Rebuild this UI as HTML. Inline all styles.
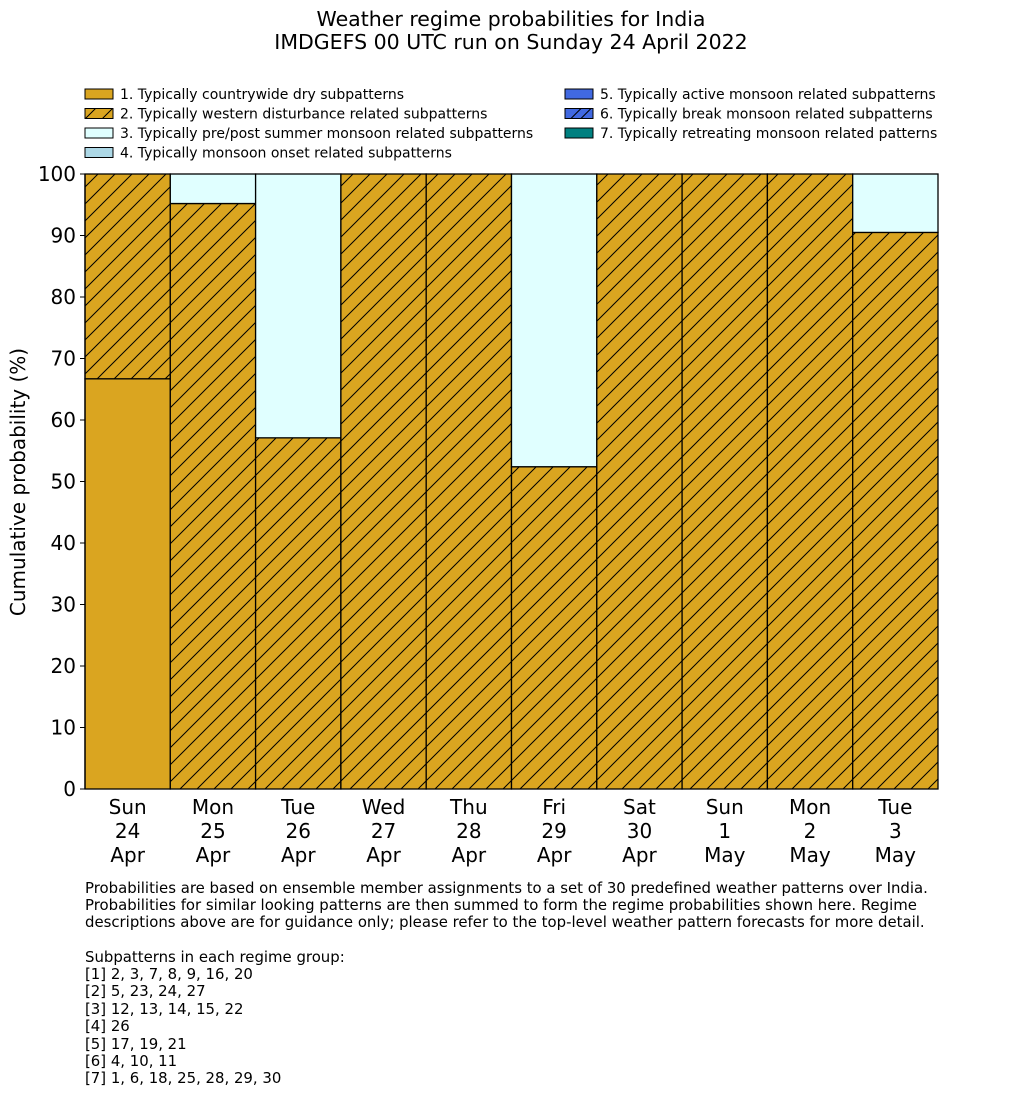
<!DOCTYPE html>
<html><head><meta charset="utf-8"><style>
body{margin:0;background:#fff;font-family:"Liberation Sans","DejaVu Sans",sans-serif;}
svg text{font-family:"DejaVu Sans","Liberation Sans",sans-serif;}
</style></head><body>
<svg id="c" width="1033" height="1114" xmlns="http://www.w3.org/2000/svg">
<defs><pattern id="h" patternUnits="userSpaceOnUse" width="17" height="17">
<rect width="17" height="17" fill="#daa520"/>
<path d="M-2,19 L19,-2 M-2,2 L2,-2 M15,19 L19,15" stroke="#000" stroke-width="1"/></pattern></defs>
<text x="511" y="26" font-size="20.5" text-anchor="middle">Weather regime probabilities for India</text>
<text x="511" y="49" font-size="20.5" text-anchor="middle">IMDGEFS 00 UTC run on Sunday 24 April 2022</text>
<g id="legend" font-size="14"></g>
<g id="bars"></g>
<g id="axis"></g>
<text transform="translate(25,482) rotate(-90)" font-size="20" text-anchor="middle">Cumulative probability (%)</text>
<g font-size="14.9">
<text x="85" y="893">Probabilities are based on ensemble member assignments to a set of 30 predefined weather patterns over India.</text>
<text x="85" y="910">Probabilities for similar looking patterns are then summed to form the regime probabilities shown here. Regime</text>
<text x="85" y="927">descriptions above are for guidance only; please refer to the top-level weather pattern forecasts for more detail.</text>
<text x="85" y="962">Subpatterns in each regime group:</text>
<text x="85" y="979">[1] 2, 3, 7, 8, 9, 16, 20</text>
<text x="85" y="996">[2] 5, 23, 24, 27</text>
<text x="85" y="1014">[3] 12, 13, 14, 15, 22</text>
<text x="85" y="1031">[4] 26</text>
<text x="85" y="1049">[5] 17, 19, 21</text>
<text x="85" y="1066">[6] 4, 10, 11</text>
<text x="85" y="1083">[7] 1, 6, 18, 25, 28, 29, 30</text>
</g>
</svg>
<script>
const days=[["Sun","24","Apr"],["Mon","25","Apr"],["Tue","26","Apr"],["Wed","27","Apr"],["Thu","28","Apr"],["Fri","29","Apr"],["Sat","30","Apr"],["Sun","1","May"],["Mon","2","May"],["Tue","3","May"]];
const dry=[66.7,0,0,0,0,0,0,0,0,0];
const wd=[33.3,95.2,57.1,100,100,52.4,100,100,100,90.5];
const pre=[0,4.8,42.9,0,0,47.6,0,0,0,9.5];
const yTicks=[0,10,20,30,40,50,60,70,80,90,100];
const legendLabels=["1. Typically countrywide dry subpatterns","2. Typically western disturbance related subpatterns","3. Typically pre/post summer monsoon related subpatterns","4. Typically monsoon onset related subpatterns","5. Typically active monsoon related subpatterns","6. Typically break monsoon related subpatterns","7. Typically retreating monsoon related patterns"];
const NS="http://www.w3.org/2000/svg";
const x0=85,x1=938,yT=174,yB=789,bw=(x1-x0)/days.length;
const y=v=>yB-(v/100)*(yB-yT);
function mk(t,a,p){const e=document.createElementNS(NS,t);for(const k in a)e.setAttribute(k,a[k]);p.appendChild(e);return e;}
const bars=document.getElementById('bars');
const series=[[dry,'#daa520','dry'],[wd,'url(#h)','wd'],[pre,'#e0ffff','pre']];
days.forEach((d,i)=>{let c=0;series.forEach(([arr,f,n])=>{const v=arr[i];if(v<=0)return;
const r=mk('rect',{x:x0+i*bw,y:y(c+v),width:bw,height:y(c)-y(c+v),fill:f,stroke:'#000','stroke-width':1.3},bars);


c+=v;});
const t=mk('text',{x:x0+(i+0.5)*bw,'font-size':20,'text-anchor':'middle'},document.getElementById('axis'));


d.forEach((s,j)=>{const ts=mk('tspan',{x:x0+(i+0.5)*bw,y:814+j*24},t);ts.textContent=s;});
});
const ax=document.getElementById('axis');
mk('line',{x1:x0,y1:yT,x2:x0,y2:yB,stroke:'#000','stroke-width':1.3},ax);
yTicks.forEach(v=>{mk('line',{x1:x0-5,y1:y(v),x2:x0,y2:y(v),stroke:'#000'},ax);
const t=mk('text',{x:x0-9,y:y(v)+7,'font-size':20,'text-anchor':'end'},ax);t.textContent=v;

});
const lg=document.getElementById('legend');
const lf=['#daa520','url(#h)','#e0ffff','#add8e6','#4169e1','#4169e1','#008080'];
legendLabels.forEach((l,i)=>{const col=i<4?0:1,row=i<4?i:i-4;const lx=col?565:85,ly=89+row*19.5;
const g=mk('g',{},lg);


mk('rect',{x:lx,y:ly,width:28,height:10,fill:lf[i],stroke:'#000'},g);
if(i==5)mk('path',{d:`M${lx+6},${ly+10}L${lx+16},${ly}M${lx+16},${ly+10}L${lx+26},${ly}`,stroke:'#000'},g);
const t=mk('text',{x:lx+35,y:ly+10},g);t.textContent=l;});
</script>
</body></html>
